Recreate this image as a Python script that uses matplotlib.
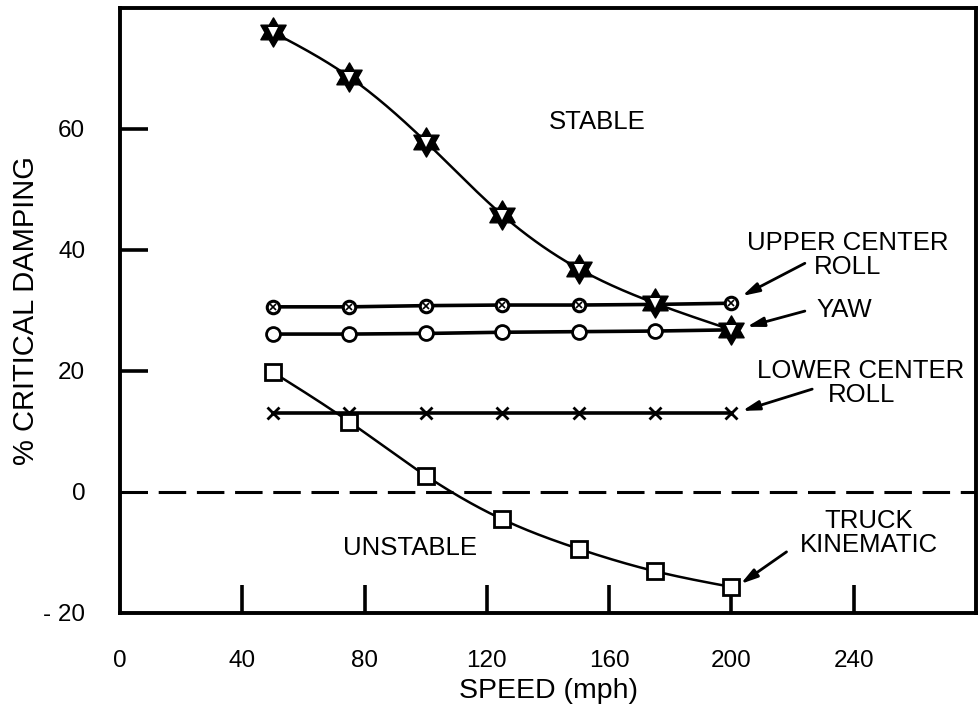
import numpy as np
import matplotlib
matplotlib.use("Agg")
import matplotlib.pyplot as plt
from matplotlib.path import Path

plt.rcParams['font.family'] = ['Liberation Sans', 'DejaVu Sans']

# Speeds (mph) at which each mode was evaluated
speed = [50, 75, 100, 125, 150, 175, 200]

# % critical damping by mode
carbody_mode = [76.0, 68.6, 57.9, 45.8, 36.9, 31.2, 26.8]
upper_center_roll = [30.6, 30.6, 30.8, 30.9, 30.9, 31.0, 31.2]
yaw = [26.1, 26.1, 26.2, 26.4, 26.5, 26.6, 26.8]
lower_center_roll = [13.1, 13.1, 13.1, 13.1, 13.1, 13.1, 13.1]
truck_kinematic = [19.8, 11.6, 2.7, -4.5, -9.4, -13.1, -15.7]

xticks = [0, 40, 80, 120, 160, 200, 240]
yticks = [-20, 0, 20, 40, 60]


def natural_spline(x, y, n=300):
    """Smooth natural cubic spline through the given points."""
    x = np.asarray(x, float)
    y = np.asarray(y, float)
    k = len(x)
    h = np.diff(x)
    A = np.zeros((k, k))
    b = np.zeros(k)
    A[0, 0] = A[-1, -1] = 1.0
    for i in range(1, k - 1):
        A[i, i - 1] = h[i - 1]
        A[i, i] = 2 * (h[i - 1] + h[i])
        A[i, i + 1] = h[i]
        b[i] = 6 * ((y[i + 1] - y[i]) / h[i] - (y[i] - y[i - 1]) / h[i - 1])
    M = np.linalg.solve(A, b)
    xs = np.linspace(x[0], x[-1], n)
    idx = np.clip(np.searchsorted(x, xs) - 1, 0, k - 2)
    x0, x1 = x[idx], x[idx + 1]
    hh = x1 - x0
    t0, t1 = x1 - xs, xs - x0
    ys = (M[idx] * t0 ** 3 + M[idx + 1] * t1 ** 3) / (6 * hh) \
        + (y[idx] / hh - M[idx] * hh / 6) * t0 \
        + (y[idx + 1] / hh - M[idx + 1] * hh / 6) * t1
    return xs, ys


# Six-pointed star marker
ang_out = np.deg2rad(90 + np.arange(6) * 60)
ang_in = ang_out + np.deg2rad(30)
verts = []
for ao, ai in zip(ang_out, ang_in):
    verts.append((np.cos(ao), np.sin(ao)))
    verts.append((0.58 * np.cos(ai), 0.58 * np.sin(ai)))
verts.append(verts[0])
codes = [Path.MOVETO] + [Path.LINETO] * (len(verts) - 2) + [Path.CLOSEPOLY]
hexagram = Path(verts, codes)

fig = plt.figure(figsize=(9.79, 7.13), dpi=100)
ax = fig.add_axes([0.1226, 0.1403, 0.8744, 0.8485])
ax.set_xlim(0, 280)
ax.set_ylim(-20, 80)

# zero-damping boundary
ax.axhline(0, color='black', lw=2.2, ls=(0, (9, 3.5)), zorder=1)

# smooth curves
xs, ys = natural_spline(speed, carbody_mode)
ax.plot(xs, ys, color='black', lw=1.8, zorder=2)
xs, ys = natural_spline(speed, truck_kinematic)
ax.plot(xs, ys, color='black', lw=1.8, zorder=2)

# flat modes
ax.plot(speed, upper_center_roll, color='black', lw=2.6, zorder=2,
        marker='o', ms=9, mfc='white', mec='black', mew=2.2)
ax.plot(speed, upper_center_roll, ls='none', marker='x', ms=5,
        mec='black', mew=1.2, zorder=3)
ax.plot(speed, yaw, color='black', lw=2.6, zorder=2,
        marker='o', ms=10, mfc='white', mec='black', mew=2.0)
ax.plot(speed, lower_center_roll, color='black', lw=2.6, zorder=2,
        marker='x', ms=8, mec='black', mew=2.0)

# markers on the curves
ax.plot(speed, truck_kinematic, ls='none', marker='s', ms=11,
        mfc='white', mec='black', mew=2.0, zorder=4)
ax.plot(speed, carbody_mode, ls='none', marker=hexagram, ms=21,
        mfc='black', mec='black', mew=1.0, zorder=4)
ax.plot(speed, carbody_mode, ls='none', marker='v', ms=7,
        mfc='white', mec='white', mew=0, zorder=5)

# frame and ticks
for s in ax.spines.values():
    s.set_linewidth(2.8)
ax.set_xticks(xticks)
ax.set_yticks(yticks)
ax.set_xticklabels([str(v) for v in xticks])
ax.set_yticklabels(['- 20', '0', '20', '40', '60'])
ax.tick_params(axis='both', direction='in', length=20, width=2.6,
               labelsize=17.5, color='black')
ax.tick_params(axis='x', pad=27)
ax.tick_params(axis='y', pad=25)
for t in ax.xaxis.get_major_ticks():
    if t.get_loc() == 0:
        t.tick1line.set_visible(False)
for t in ax.yaxis.get_major_ticks():
    if t.get_loc() in (-20, 0):
        t.tick1line.set_visible(False)

ax.set_xlabel('SPEED (mph)', fontsize=20.5)
ax.set_ylabel('% CRITICAL DAMPING', fontsize=21)
ax.xaxis.set_label_coords(0.5, -0.108)
ax.yaxis.set_label_coords(-0.094, 0.5)

txt = dict(fontsize=18.5, ha='center', va='center', linespacing=1.0)
ax.text(156, 61.2, 'STABLE', **txt)
ax.text(95, -9.3, 'UNSTABLE', **txt)

arrow = dict(arrowstyle='-|>,head_length=1.0,head_width=0.28',
             color='black', lw=2.0, shrinkA=0, shrinkB=0)
ax.text(238, 39.2, 'UPPER CENTER\nROLL', **txt)
ax.annotate('', xy=(203.5, 32.4), xytext=(224, 37.8), arrowprops=arrow)
ax.text(237, 30.1, 'YAW', **txt)
ax.annotate('', xy=(205, 27.3), xytext=(224, 29.9), arrowprops=arrow)
ax.text(242.4, 18.0, 'LOWER CENTER\nROLL', **txt)
ax.annotate('', xy=(203.5, 13.4), xytext=(226.4, 17.0), arrowprops=arrow)
ax.text(245, -6.8, 'TRUCK\nKINEMATIC', **txt)
ax.annotate('', xy=(203, -15.2), xytext=(218, -9.9), arrowprops=arrow)

fig.savefig('out.png', dpi=100)
